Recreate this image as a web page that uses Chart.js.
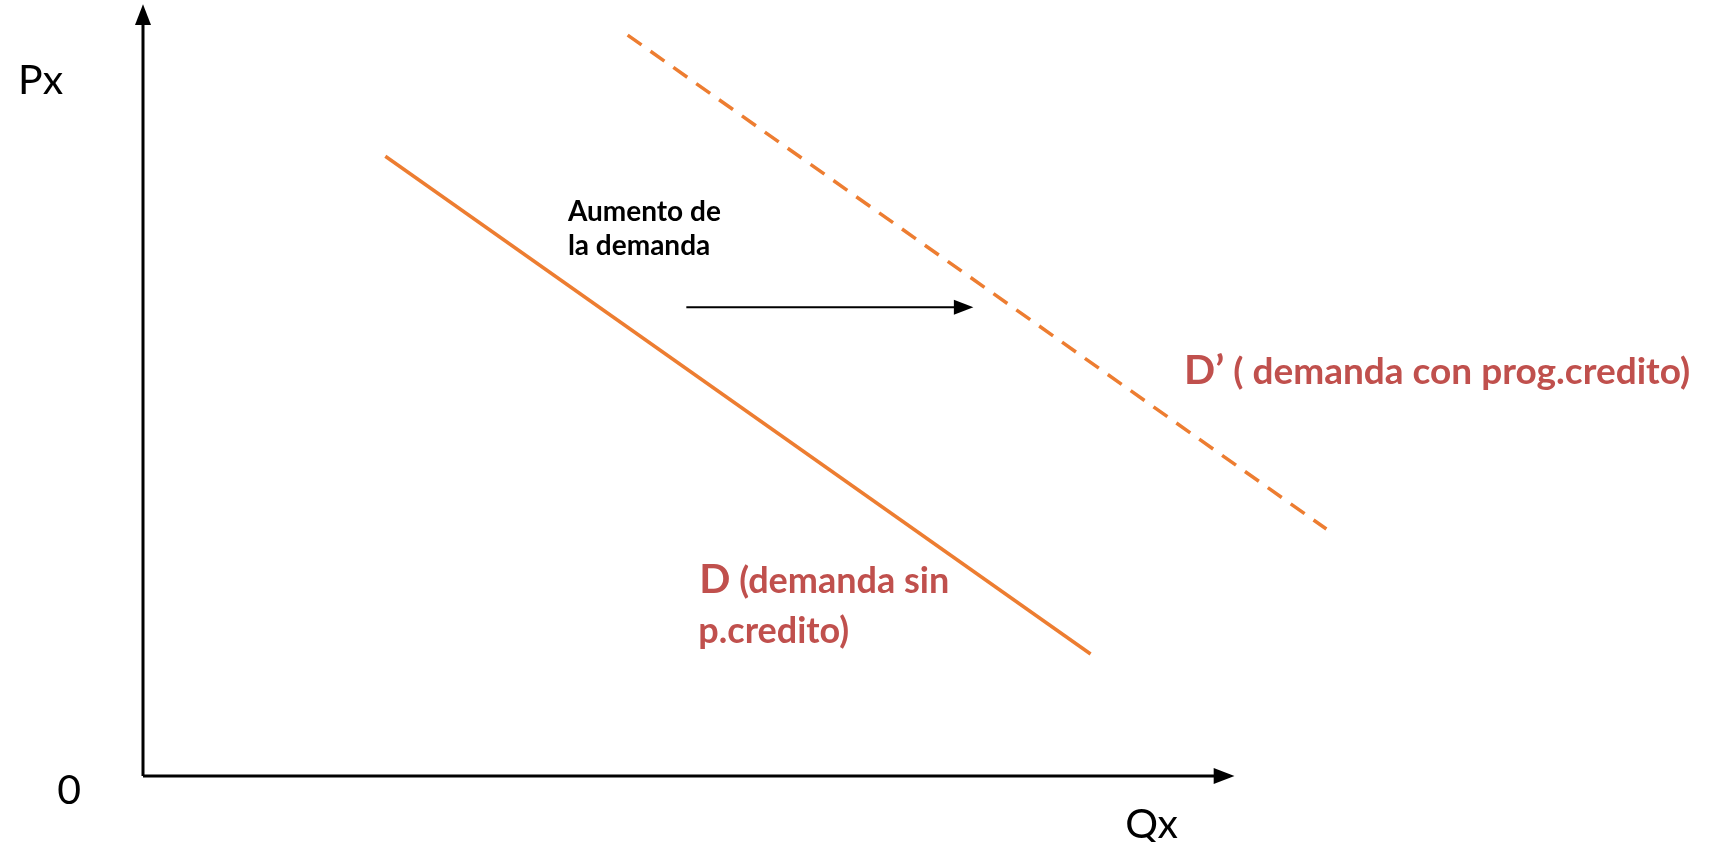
<!DOCTYPE html>
<html>
<head>
<meta charset="utf-8">
<script src="https://cdn.jsdelivr.net/npm/chart.js@4.4.1/dist/chart.umd.min.js"></script>
<style>
  html, body { margin: 0; padding: 0; background: #ffffff; }
  #wrap { width: 1727px; height: 842px; }
</style>
</head>
<body>
<div id="wrap"><canvas id="demandChart" width="1727" height="842"></canvas></div>
<script>
// Curve end points (Qx, Px)
const demandQ = [22.3, 87.2];
const demandP = [80.8, 15.9];
const shiftedQ = [44.6, 108.9];
const shiftedP = [96.6, 32.2];
const shiftArrowQ = [50.0, 76.0];
const shiftArrowP = [61.1, 61.1];
const axisQ = [0, 100];
const axisP = [0, 100];

const ORANGE = '#ED7D31';
const RED = '#C0504D';
const FONT = 'Lato, "Open Sans", sans-serif';

function toPoints(xs, ys) {
    return xs.map(function(x, i) { return { x: x, y: ys[i] }; });
}

// Text labels, placed in data units
const labels = [
    { text: 'Px', q: -11.5, p: 88.9, font: '41px ' + FONT, color: '#000', align: 'left' },
    { text: '0', q: -6.8, p: -3.7, font: '41px ' + FONT, color: '#000', align: 'center' },
    { text: 'Qx', q: 90.4, p: -8.1, font: '41px ' + FONT, color: '#000', align: 'left' },
    { text: 'Aumento de', q: 39.1, p: 72.4, font: 'bold 28px ' + FONT, color: '#000', align: 'left' },
    { text: 'la demanda', q: 39.1, p: 67.9, font: 'bold 28px ' + FONT, color: '#000', align: 'left' },
    { parts: [['D\u2019', 'bold 41px ' + FONT], [' ( demanda con prog.credito)', 'bold 37px ' + FONT]], q: 95.8, p: 51.1, color: RED },
    { parts: [['D', 'bold 41px ' + FONT], [' (demanda sin', 'bold 36px ' + FONT]], q: 51.2, p: 23.9, color: RED },
    { text: 'p.credito)', q: 51.1, p: 17.3, font: 'bold 36px ' + FONT, color: RED, align: 'left' }
];

// Draws arrow heads on flagged datasets and the text labels
const diagramPlugin = {
    id: 'diagram',
    afterDatasetsDraw: function(chart) {
        const ctx = chart.ctx;
        const xs = chart.scales.x;
        const ys = chart.scales.y;

        chart.data.datasets.forEach(function(ds, i) {
            if (!ds.arrowSize) return;
            const pts = chart.getDatasetMeta(i).data;
            const a = pts[pts.length - 2], b = pts[pts.length - 1];
            const ang = Math.atan2(b.y - a.y, b.x - a.x);
            const s = ds.arrowSize;
            ctx.save();
            ctx.fillStyle = ds.borderColor;
            ctx.beginPath();
            ctx.moveTo(b.x + Math.cos(ang) * s * 0.3, b.y + Math.sin(ang) * s * 0.3);
            ctx.lineTo(b.x - Math.cos(ang) * s + Math.sin(ang) * s * 0.5, b.y - Math.sin(ang) * s - Math.cos(ang) * s * 0.5);
            ctx.lineTo(b.x - Math.cos(ang) * s - Math.sin(ang) * s * 0.5, b.y - Math.sin(ang) * s + Math.cos(ang) * s * 0.5);
            ctx.closePath();
            ctx.fill();
            ctx.restore();
        });

        ctx.save();
        ctx.textBaseline = 'alphabetic';
        labels.forEach(function(l) {
            let px = xs.getPixelForValue(l.q);
            const py = ys.getPixelForValue(l.p);
            ctx.fillStyle = l.color;
            if (l.parts) {
                ctx.textAlign = 'left';
                l.parts.forEach(function(part) {
                    ctx.font = part[1];
                    ctx.fillText(part[0], px, py);
                    px += ctx.measureText(part[0]).width;
                });
            } else {
                ctx.font = l.font;
                ctx.textAlign = l.align;
                ctx.fillText(l.text, px, py);
            }
        });
        ctx.restore();
    }
};

function initializeChart() {
    const ctx = document.getElementById('demandChart').getContext('2d');
    new Chart(ctx, {
        type: 'scatter',
        data: {
            datasets: [
                { label: 'eje Qx', data: toPoints(axisQ, [0, 0]), borderColor: '#000', borderWidth: 3, arrowSize: 16 },
                { label: 'eje Px', data: toPoints([0, 0], axisP), borderColor: '#000', borderWidth: 3, arrowSize: 16 },
                { label: 'D', data: toPoints(demandQ, demandP), borderColor: ORANGE, borderWidth: 3.5 },
                { label: 'D\u2019', data: toPoints(shiftedQ, shiftedP), borderColor: ORANGE, borderWidth: 3.5, borderDash: [17, 11] },
                { label: 'Aumento de la demanda', data: toPoints(shiftArrowQ, shiftArrowP), borderColor: '#000', borderWidth: 2, arrowSize: 15 }
            ].map(function(ds) {
                return Object.assign({ showLine: true, pointRadius: 0, pointHoverRadius: 0, clip: false, fill: false }, ds);
            })
        },
        options: {
            responsive: false,
            animation: false,
            devicePixelRatio: 1,
            layout: { padding: { left: 143, right: 280, top: 9, bottom: 66 } },
            scales: {
                x: { type: 'linear', min: 0, max: 120, display: false },
                y: { type: 'linear', min: 0, max: 100, display: false }
            },
            plugins: {
                legend: { display: false },
                tooltip: { enabled: false }
            }
        },
        plugins: [diagramPlugin]
    });
}

document.addEventListener('DOMContentLoaded', function() {
    initializeChart();
});
</script>
</body>
</html>
